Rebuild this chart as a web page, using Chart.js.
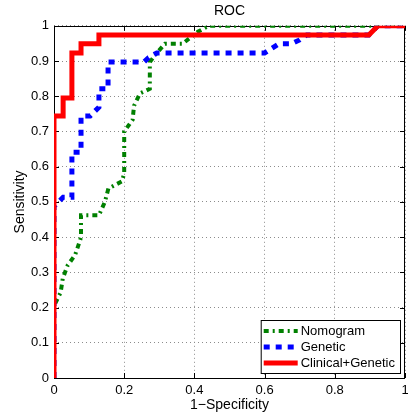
<!DOCTYPE html>
<html>
<head>
<meta charset="utf-8">
<title>ROC</title>
<script src="https://cdn.jsdelivr.net/npm/chart.js@4.4.1/dist/chart.umd.min.js"></script>
<style>
  html, body { margin: 0; padding: 0; background: #fff; }
  #wrap { width: 408px; height: 419px; }
</style>
</head>
<body>
<div id="wrap"><canvas id="roc" width="408" height="419"></canvas></div>
<script>
/*
================================================================
ROC data
================================================================
*/
const seriesNames = ['Nomogram', 'Genetic', 'Clinical+Genetic'];

const nomogramX = [0, 0, 0.019, 0.025, 0.039, 0.06, 0.074, 0.077, 0.077, 0.128, 0.145, 0.155, 0.193, 0.2, 0.2, 0.224, 0.228, 0.245, 0.273, 0.273, 0.293, 0.316, 0.366, 0.41, 0.441, 1];
const nomogramY = [0, 0.205, 0.243, 0.283, 0.32, 0.349, 0.39, 0.40, 0.462, 0.462, 0.50, 0.538, 0.558, 0.58, 0.70, 0.733, 0.773, 0.808, 0.821, 0.897, 0.923, 0.949, 0.949, 0.983, 1, 1];

const geneticX = [0, 0, 0.026, 0.051, 0.051, 0.077, 0.077, 0.103, 0.128, 0.128, 0.154, 0.154, 0.256, 0.27, 0.293, 0.6, 0.641, 0.677, 0.70, 0.72, 0.897, 0.923, 1];
const geneticY = [0, 0.487, 0.513, 0.513, 0.641, 0.641, 0.744, 0.744, 0.769, 0.821, 0.821, 0.897, 0.897, 0.91, 0.923, 0.923, 0.949, 0.949, 0.96, 0.974, 0.974, 1, 1];

const clinicalX = [0, 0, 0.026, 0.026, 0.051, 0.051, 0.077, 0.077, 0.128, 0.128, 0.897, 0.923, 1];
const clinicalY = [0, 0.744, 0.744, 0.795, 0.795, 0.923, 0.923, 0.949, 0.949, 0.974, 0.974, 1, 1];

const xTicks = [0, 0.2, 0.4, 0.6, 0.8, 1];
const yTicks = [0, 0.1, 0.2, 0.3, 0.4, 0.5, 0.6, 0.7, 0.8, 0.9, 1];

const FONT = 'Liberation Sans, Arial, Helvetica, sans-serif';

// zip two arrays into {x, y} points
const toPoints = (xs, ys) => xs.map((x, i) => ({ x: x, y: ys[i] }));

// box round the axes + inward ticks on all four sides (matlab look)
const boxPlugin = {
    id: 'boxPlugin',
    beforeDatasetsDraw: (chart) => {
        const ctx = chart.ctx;
        const a = chart.chartArea;
        const sx = chart.scales.x, sy = chart.scales.y;
        ctx.save();
        ctx.strokeStyle = '#000';
        ctx.lineWidth = 1;
        ctx.beginPath();
        ctx.rect(Math.round(a.left) + 0.5, Math.round(a.top) + 0.5, Math.round(a.right - a.left) - 1, Math.round(a.bottom - a.top));
        ctx.stroke();
        const len = 5;
        ctx.beginPath();
        xTicks.forEach(v => {
            const px = Math.round(sx.getPixelForValue(v)) + 0.5;
            ctx.moveTo(px, a.bottom); ctx.lineTo(px, a.bottom - len);
            ctx.moveTo(px, a.top); ctx.lineTo(px, a.top + len);
        });
        yTicks.forEach(v => {
            const py = Math.round(sy.getPixelForValue(v)) + 0.5;
            ctx.moveTo(a.left, py); ctx.lineTo(a.left + len, py);
            ctx.moveTo(a.right, py); ctx.lineTo(a.right - len, py);
        });
        ctx.stroke();
        ctx.restore();
    }
};

// legend box in lower right corner of the plot
const legendPlugin = {
    id: 'legendPlugin',
    afterDatasetsDraw: (chart) => {
        const ctx = chart.ctx;
        const a = chart.chartArea;
        ctx.save();
        ctx.font = '13px ' + FONT;
        let maxW = 0;
        chart.data.datasets.forEach(ds => { maxW = Math.max(maxW, ctx.measureText(ds.label).width); });
        const sample = 34, rowH = 16;
        const w = 3 + sample + 3 + maxW + 5;
        const h = rowH * chart.data.datasets.length + 5;
        const right = Math.round(a.right) - 5, bottom = Math.round(a.bottom) - 5;
        const left = right - w, top = bottom - h;
        ctx.fillStyle = '#fff';
        ctx.fillRect(left, top, w, h);
        ctx.strokeStyle = '#000';
        ctx.lineWidth = 1;
        ctx.strokeRect(left + 0.5, top + 0.5, w, h);
        chart.data.datasets.forEach((ds, i) => {
            const cy = top + 11 + i * rowH;
            ctx.strokeStyle = ds.borderColor;
            ctx.lineWidth = ds.borderWidth;
            ctx.setLineDash(ds.borderDash || []);
            ctx.beginPath();
            ctx.moveTo(left + 3, cy);
            ctx.lineTo(left + 3 + sample, cy);
            ctx.stroke();
            ctx.setLineDash([]);
            ctx.fillStyle = '#000';
            ctx.textBaseline = 'middle';
            ctx.textAlign = 'left';
            ctx.fillText(ds.label, left + 3 + sample + 3, cy);
        });
        ctx.restore();
    }
};

const gridOpts = {
    color: '#8c8c8c',
    lineWidth: 1,
    drawTicks: false
};
// grid line dashes live under border in chart.js v4
const borderOpts = { display: false, dash: [1, 3] };

const ctx = document.getElementById('roc');
const rocChart = new Chart(ctx, {
    type: 'scatter',
    data: {
        datasets: [{
            label: seriesNames[0],
            data: toPoints(nomogramX, nomogramY),
            showLine: true,
            borderColor: 'rgb(0,128,0)',
            borderWidth: 4,
            borderDash: [5, 4, 2, 4],
            pointRadius: 0,
            order: 3
        }, {
            label: seriesNames[1],
            data: toPoints(geneticX, geneticY),
            showLine: true,
            borderColor: 'rgb(0,0,255)',
            borderWidth: 5,
            borderDash: [6, 6],
            pointRadius: 0,
            order: 2
        }, {
            label: seriesNames[2],
            data: toPoints(clinicalX, clinicalY),
            showLine: true,
            borderColor: 'rgb(255,0,0)',
            borderWidth: 5,
            pointRadius: 0,
            order: 1
        }]
    },
    options: {
        responsive: false,
        animation: false,
        layout: { padding: { left: 0, right: 3, top: 0, bottom: 0 } },
        plugins: {
            legend: { display: false },
            tooltip: { enabled: false },
            title: {
                display: true,
                text: 'ROC',
                fullSize: false,
                color: '#000',
                font: { family: FONT, size: 14, weight: 'normal' },
                padding: { top: 3, bottom: 6 }
            }
        },
        scales: {
            x: {
                type: 'linear',
                min: 0,
                max: 1,
                afterBuildTicks: (scale) => { scale.ticks = xTicks.map(v => ({ value: v })); },
                afterFit: (scale) => {
                    scale.height = 41;
                    scale.paddingLeft = 0;
                    scale.paddingRight = 0;
                },
                ticks: {
                    color: '#000',
                    padding: 5,
                    maxRotation: 0,
                    font: { family: FONT, size: 13 },
                    callback: (v) => String(v)
                },
                grid: gridOpts,
                border: borderOpts,
                title: {
                    display: true,
                    text: '1\u2212Specificity',
                    color: '#000',
                    font: { family: FONT, size: 14 },
                    padding: { top: 0, bottom: 5 }
                }
            },
            y: {
                type: 'linear',
                min: 0,
                max: 1,
                afterBuildTicks: (scale) => { scale.ticks = yTicks.map(v => ({ value: v })); },
                afterFit: (scale) => {
                    scale.width = 54;
                    scale.paddingTop = 0;
                    scale.paddingBottom = 0;
                },
                ticks: {
                    color: '#000',
                    padding: 5,
                    font: { family: FONT, size: 13 },
                    callback: (v) => String(v)
                },
                grid: gridOpts,
                border: borderOpts,
                title: {
                    display: true,
                    text: 'Sensitivity',
                    color: '#000',
                    font: { family: FONT, size: 14 },
                    padding: { top: 12, bottom: 0 }
                }
            }
        }
    },
    plugins: [boxPlugin, legendPlugin]
});
</script>
</body>
</html>
